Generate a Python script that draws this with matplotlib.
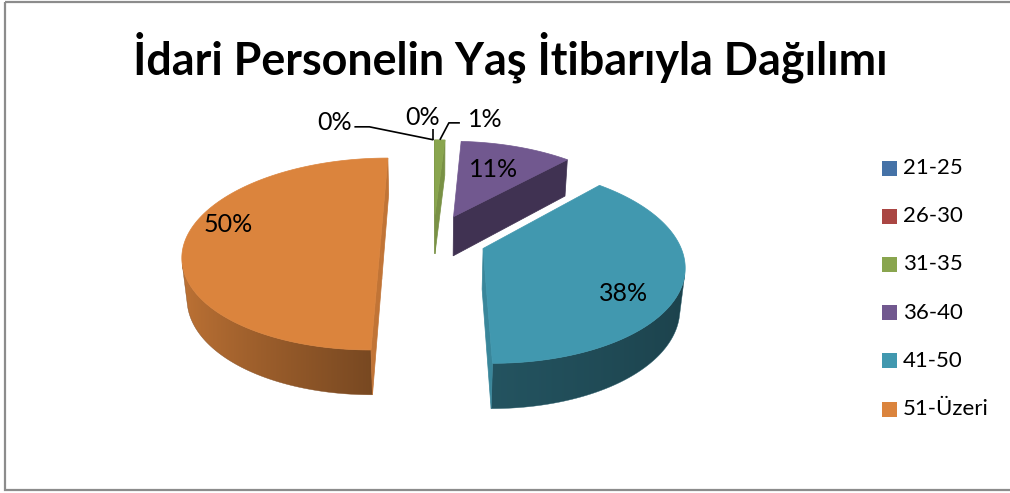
import numpy as np
import matplotlib
matplotlib.use('Agg')
import matplotlib.pyplot as plt
from matplotlib.patches import Polygon, Rectangle
from matplotlib.colors import to_rgb

# ---- data ----
categories = ['21-25', '26-30', '31-35', '36-40', '41-50', '51-Üzeri']
values = [0, 0, 1, 11, 38, 50]
pct_labels = ['0%', '0%', '1%', '11%', '38%', '50%']
colors = ['#4572A7', '#AA4643', '#89A54E', '#71588F', '#4198AF', '#DB843D']
title = 'İdari Personelin Yaş İtibarıyla Dağılımı'

W, H = 1010, 493
fig = plt.figure(figsize=(W / 100, H / 100), dpi=100)
ax = fig.add_axes([0, 0, 1, 1])
ax.set_xlim(0, W)
ax.set_ylim(H, 0)
ax.axis('off')

# ---- 3D pie projection (style parameters) ----
S = 195.0
SPHI = 0.48
CPHI = np.sqrt(1 - SPHI ** 2)
DIST = 5.61
CX, CY = 433.4, 239.0
EXPL = 0.27
DEPTH = 0.24
CAM = np.array([0.0, -DIST * CPHI, DIST * SPHI])


def proj(X, Y, Z):
    w = Y * CPHI - Z * SPHI
    f = DIST / (DIST + w)
    up = Y * SPHI + Z * CPHI
    return CX + S * X * f, CY - S * up * f


def shade(c, k):
    r, g, b = to_rgb(c)
    return np.array([min(r * k, 1), min(g * k, 1), min(b * k, 1)])


def side_factor(th):
    s = np.sin(th)
    return 0.55 + 0.33 * np.maximum(-s, 0) - 0.12 * np.maximum(s, 0)


total = float(sum(values))
starts = np.cumsum([0] + values[:-1]) / total * 2 * np.pi
ends = np.cumsum(values) / total * 2 * np.pi

slices = []
for i, v in enumerate(values):
    t1, t2 = starts[i], ends[i]
    mid = 0.5 * (t1 + t2)
    ox, oy = EXPL * np.sin(mid), EXPL * np.cos(mid)
    slices.append((i, t1, t2, mid, ox, oy))

order = sorted(slices, key=lambda s: -(s[5] * CPHI))
for (i, t1, t2, mid, ox, oy) in order:
    if values[i] <= 0:
        continue
    col = colors[i]
    n = max(int(np.degrees(t2 - t1)) * 2, 4)
    ths = np.linspace(t1, t2, n + 1)
    # visible part of the outer side
    vis = []
    for m in ths:
        p = np.array([ox + np.sin(m), oy + np.cos(m), -DEPTH / 2])
        nrm = np.array([np.sin(m), np.cos(m), 0])
        vis.append(np.dot(nrm, CAM - p) > 0)
    vis = np.array(vis)
    if vis.sum() >= 2:
        tv = ths[vis]
        top = [proj(ox + np.sin(t), oy + np.cos(t), 0) for t in tv]
        bot = [proj(ox + np.sin(t), oy + np.cos(t), -DEPTH) for t in tv[::-1]]
        poly = Polygon(top + bot, closed=True, facecolor='none', edgecolor='none')
        ax.add_patch(poly)
        xs = np.array([p[0] for p in top])
        srt = np.argsort(xs)
        x0, x1 = xs.min() - 2, xs.max() + 2
        ys = [p[1] for p in top + bot]
        y0, y1 = min(ys) - 2, max(ys) + 2
        gx = np.linspace(x0, x1, 400)
        gt = np.interp(gx, xs[srt], tv[srt])
        grad = np.array([shade(col, side_factor(t)) for t in gt])[None, :, :]
        im = ax.imshow(grad, extent=(x0, x1, y1, y0), aspect='auto',
                       interpolation='bilinear', zorder=1)
        im.set_clip_path(poly)
        edge = Polygon(top + bot, closed=True, facecolor='none',
                       edgecolor=shade(col, 0.6), lw=0.3, zorder=1)
        ax.add_patch(edge)
        ax.set_xlim(0, W)
        ax.set_ylim(H, 0)
    # radial faces
    for t, sgn in ((t1, -1), (t2, 1)):
        nrm = np.array([sgn * np.cos(t), -sgn * np.sin(t), 0])
        p = np.array([ox + 0.5 * np.sin(t), oy + 0.5 * np.cos(t), -DEPTH / 2])
        if np.dot(nrm, CAM - p) <= 0:
            continue
        pts = [proj(ox, oy, 0), proj(ox + np.sin(t), oy + np.cos(t), 0),
               proj(ox + np.sin(t), oy + np.cos(t), -DEPTH), proj(ox, oy, -DEPTH)]
        k = 0.57 if nrm[1] < -0.3 else 0.88
        c = shade(col, k)
        ax.add_patch(Polygon(pts, closed=True, facecolor=c, edgecolor=c, lw=0.5, zorder=1))
    # top
    pts = [proj(ox, oy, 0)] + [proj(ox + np.sin(t), oy + np.cos(t), 0) for t in ths]
    ax.add_patch(Polygon(pts, closed=True, facecolor=col, edgecolor=col, lw=0.5, zorder=1))

# ---- data labels ----
LFONT = dict(family='Lato', fontsize=18, color='black', zorder=5)
inner_pos = {3: (0.60, -3), 4: (0.72, 18), 5: (0.78, -14)}
ext_text = {0: (-99, -17), 1: (-11, -22), 2: (45, -20)}
ext_elbow = {0: (-64, -13), 1: (0, -11), 2: (9, -17)}
ext_end = {0: (-79, -13), 1: (0, -11), 2: (20, -17)}
for (i, t1, t2, mid, ox, oy) in slices:
    if i in inner_pos:
        r, dy = inner_pos[i]
        x, y = proj(ox + r * np.sin(mid), oy + r * np.cos(mid), 0)
        ax.text(x, y + dy, pct_labels[i], ha='center', va='center', **LFONT)
    else:
        ax_, ay_ = proj(ox + np.sin(mid), oy + np.cos(mid), 0)
        tx, ty = ext_text[i]
        ex, ey = ext_elbow[i]
        nx, ny = ext_end[i]
        ax.plot([ax_, ax_ + ex, ax_ + nx], [ay_, ay_ + ey, ay_ + ny],
                color='black', lw=1.2, solid_capstyle='butt', zorder=5)
        ax.text(ax_ + tx, ay_ + ty, pct_labels[i], ha='center', va='center', **LFONT)

# ---- legend ----
leg_y0, leg_dy = 168, 48.2
for i, cat in enumerate(categories):
    y = leg_y0 + i * leg_dy
    ax.add_patch(Rectangle((882, y - 7.5), 15, 15, facecolor=colors[i], edgecolor='none'))
    ax.text(903, y, cat, ha='left', va='center', family='Lato', fontsize=16, color='black')

# ---- title ----
t = ax.text(510, 57, title, ha='center', va='center', family='Lato',
            fontweight='bold', fontsize=28, color='black')
fig.canvas.draw()
bb = t.get_window_extent(renderer=fig.canvas.get_renderer())
t.set_fontsize(28 * 755.0 / bb.width)

# ---- frame ----
ax.add_patch(Rectangle((5, 2), 1020, 488, fill=False, edgecolor='#8c8c8c', lw=1.6,
                       clip_on=False))

fig.savefig('out.png', dpi=100)
